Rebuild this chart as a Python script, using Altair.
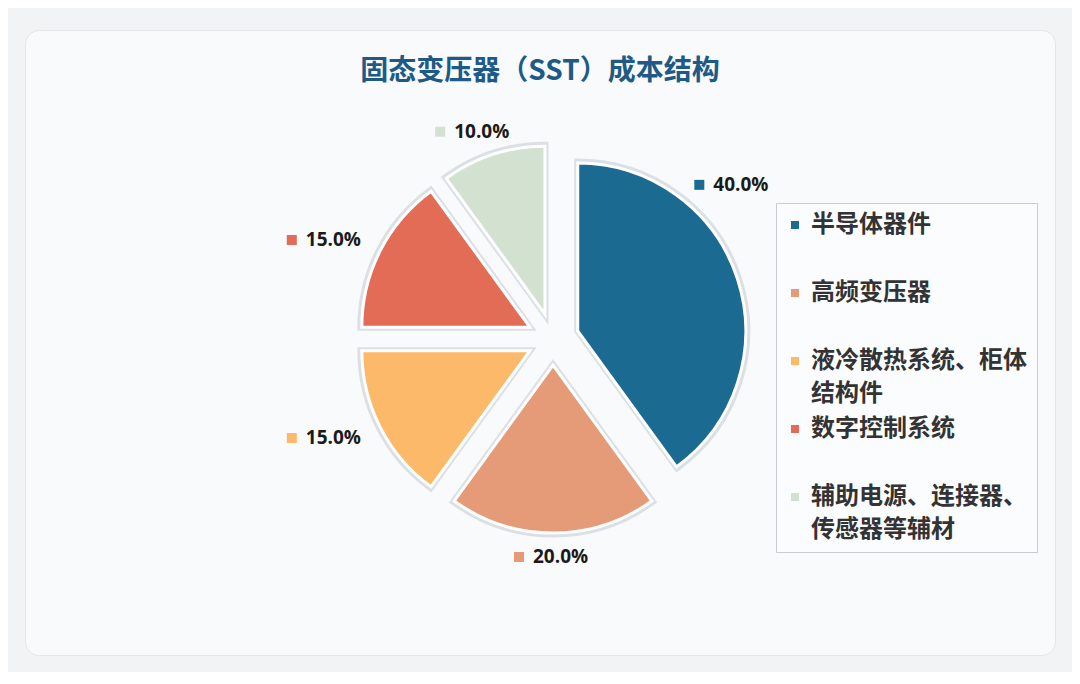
import altair as alt
import pandas as pd

# ---------------- data ----------------
categories = [
    "半导体器件",
    "高频变压器",
    "液冷散热系统、柜体结构件",
    "数字控制系统",
    "辅助电源、连接器、传感器等辅材",
]
shares = [40.0, 20.0, 15.0, 15.0, 10.0]
title_text = "固态变压器（SST）成本结构"

# ---------------- style / layout ----------------
colors = ["#1B6A92", "#E59B78", "#FCB96A", "#E36C56", "#D3E2D0"]
CX, CY = 528, 309          # pie centre inside the panel
RADIUS = 168
EXPLODE = 26
LRX, LRY = 255, 218         # label ellipse
CJK = "Noto Sans CJK SC"

df = pd.DataFrame({"category": categories, "share": shares, "idx": list(range(len(categories)))})

base = (
    alt.Chart(df)
    .transform_window(cum="sum(share)", sort=[alt.SortField("idx")], frame=[None, 0])
    .transform_joinaggregate(total="sum(share)")
    .transform_calculate(
        t1="datum.cum / datum.total * 2 * PI",
        t0="(datum.cum - datum.share) / datum.total * 2 * PI",
    )
    .transform_calculate(mid="(datum.t0 + datum.t1) / 2",
                         la="datum.t0 + min((datum.t1 - datum.t0) / 2, PI / 4)")
    .transform_calculate(
        px=f"{CX} + {EXPLODE} * sin(datum.mid)",
        py=f"{CY} - {EXPLODE} * cos(datum.mid)",
        lx=f"{CX} + {LRX} * sin(datum.la)",
        ly=f"{CY} - {LRY} * cos(datum.la)",
        txt="format(datum.share, '.1f') + '%'",
    )
    .transform_calculate(mx="datum.lx - 34", tx="datum.lx - 20")
)

color = alt.Color(
    "category:N",
    scale=alt.Scale(domain=categories, range=colors),
    legend=alt.Legend(
        title=None,
        orient="none",
        legendX=751,
        legendY=173,
        labelExpr="length(datum.label) > 9 ? [substring(datum.label, 0, 9), substring(datum.label, 9)] : [datum.label, '']",
        labelFont=CJK,
        labelFontSize=24,
        labelFontWeight="bold",
        labelColor="#333333",
        labelLimit=400,
        labelOffset=1,
        symbolType="M-1.4,-0.8L0.2,-0.8L0.2,0.8L-1.4,0.8Z",
        symbolSize=100,
        symbolStrokeWidth=0,
        rowPadding=11,
        padding=10,
        strokeColor="#C9CDD1",
        fillColor="#FBFCFD",
    ),
)

pos = dict(
    x=alt.X("px:Q", scale=None, axis=None),
    y=alt.Y("py:Q", scale=None, axis=None),
    theta=alt.Theta("t0:Q", scale=None, stack=None),
    theta2=alt.Theta2("t1:Q"),
)

halo = base.mark_arc(radius=RADIUS + 1, fillOpacity=0, stroke="#D3D9DE", strokeWidth=7, strokeOpacity=0.8).encode(**pos)
slices = base.mark_arc(radius=RADIUS, stroke="white", strokeWidth=3).encode(color=color, **pos)

markers = base.mark_square(size=100, opacity=1).encode(
    x=alt.X("mx:Q", scale=None, axis=None),
    y=alt.Y("ly:Q", scale=None, axis=None),
    color=alt.Color("category:N", scale=alt.Scale(domain=categories, range=colors), legend=None),
)
labels = base.mark_text(align="left", baseline="middle", font="Open Sans", fontSize=19,
                        fontWeight="bold", color="#1A1A1A").encode(
    x=alt.X("tx:Q", scale=None, axis=None),
    y=alt.Y("ly:Q", scale=None, axis=None),
    text="txt:N",
)

title = alt.Chart(pd.DataFrame({"t": [title_text]})).mark_text(
    font=CJK, fontSize=28, fontWeight="bold", color="#1E5A85", align="center", baseline="middle"
).encode(text="t:N", x=alt.value(515), y=alt.value(42))

chart = (
    alt.layer(halo, slices, markers, labels, title)
    .properties(
        width=1030,
        height=625,
        autosize=alt.AutoSizeParams(type="none"),
        padding={"left": 17, "top": 22, "right": 17, "bottom": 17},
        background="#F1F3F5",
    )
    .configure(
        style={"guide-label": {"lineHeight": 33}},
        view=alt.ViewConfig(fill="#F9FAFB", stroke="#E3E7EA", strokeWidth=1, cornerRadius=14),
    )
)

chart.save("out.html", embed_options={"renderer": "svg", "actions": False})
